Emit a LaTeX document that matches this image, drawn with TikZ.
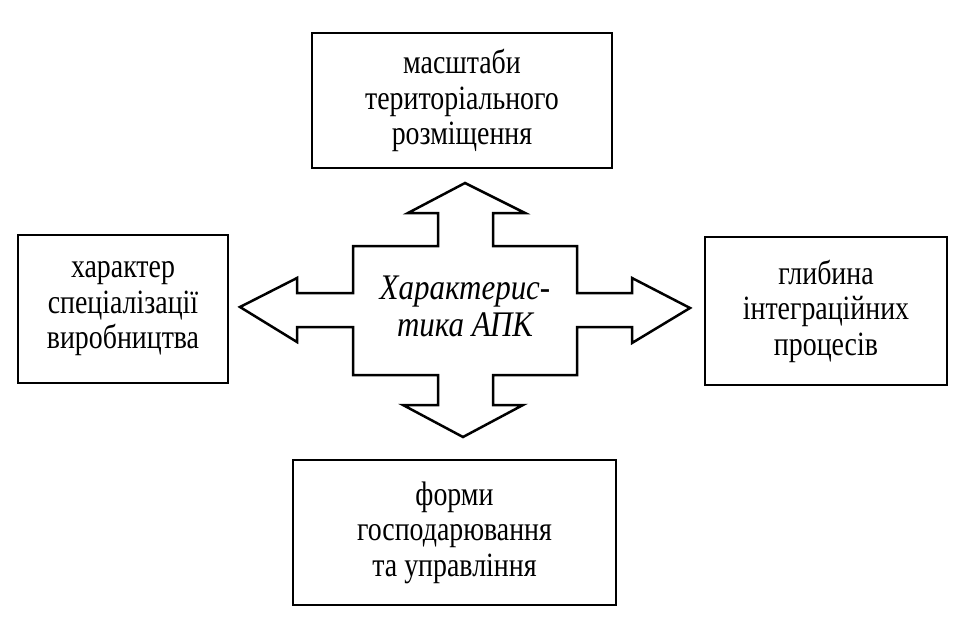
\documentclass[tikz,border=0pt]{standalone}
\usepackage{fontspec}
\setmainfont{Liberation Serif}
\newfontfamily\boxfont[FakeStretch=0.82]{Liberation Serif}
\newfontfamily\centfont[FakeStretch=0.86]{Liberation Serif}
\begin{document}
\begin{tikzpicture}[x=1pt,y=-1pt,
  box/.style={draw,line width=2.8pt,align=center,inner sep=0pt,
    font=\boxfont\fontsize{34}{35.5}\selectfont},
  cross/.style={draw,line width=2.5pt,line join=miter,fill=white}]
\useasboundingbox (0,0) rectangle (960,629);
\node[box,minimum width=300pt,minimum height=135pt] (top) at (462,100.5)
  {масштаби\\територіального\\розміщення};
\node[box,minimum width=210pt,minimum height=148pt] (left) at (123,309)
  {характер\\спеціалізації\\виробництва};
\node[box,minimum width=242pt,minimum height=148pt] (right) at (826,311)
  {глибина\\інтеграційних\\процесів};
\node[box,minimum width=323pt,minimum height=145pt] (bottom) at (454.5,532.5)
  {форми\\господарювання\\та управління};
\draw[cross] (465,183) -- (525,213) -- (493,213) -- (493,246) -- (577,246)
  -- (577,293) -- (632,293) -- (632,278) -- (690,308) -- (632,343)
  -- (632,327) -- (577,327) -- (577,375) -- (493,375) -- (493,405)
  -- (523,405) -- (463,437) -- (403,405) -- (438,405) -- (438,375)
  -- (353,375) -- (353,327) -- (297,327) -- (297,342) -- (240,307)
  -- (297,278) -- (297,293) -- (353,293) -- (353,246) -- (438,246)
  -- (438,213) -- (408,213) -- cycle;
\node[align=center,inner sep=0pt,font=\centfont\fontsize{36}{37}\itshape\selectfont] (centre) at (465,306)
  {Характерис-\\тика АПК};
\end{tikzpicture}
\end{document}
